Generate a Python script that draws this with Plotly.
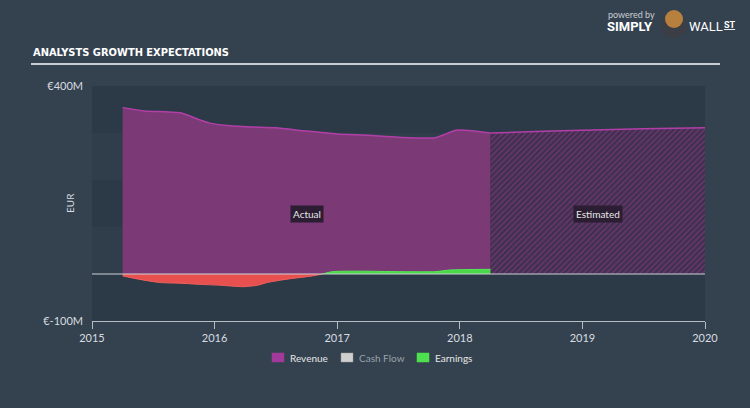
import numpy as np
import plotly.graph_objects as go

# ---------------- data ----------------
rev_actual_x = [2015.25, 2015.43, 2015.6, 2015.72, 2015.88, 2015.96, 2016.1, 2016.3, 2016.5,
                2016.75, 2017.0, 2017.25, 2017.5, 2017.8, 2017.97, 2018.1, 2018.25]
rev_actual_y = [354, 347, 345, 343, 328, 321, 316, 313, 311, 304, 298, 295, 291, 290, 306, 305, 300]

rev_est_x = [2018.25, 2018.5, 2019.0, 2019.5, 2020.0]
rev_est_y = [300, 302, 306, 309, 311]

earn_x = [2015.25, 2015.4, 2015.55, 2015.75, 2015.88, 2016.05, 2016.23, 2016.35, 2016.43,
          2016.59, 2016.8, 2016.88, 2016.96, 2017.2, 2017.5, 2017.8, 2017.92, 2018.25]
earn_y = [-4, -12, -18, -20, -22, -24, -27, -24, -18, -11, -4, 0, 5, 6, 5, 5, 8.5, 10]

year_ticks = [2015, 2016, 2017, 2018, 2019, 2020]
y_ticks = [400, -100]
y_tick_text = ["€400M", "€-100M"]
bands = [(300, 400), (100, 200), (-100, 0)]

legend_items = [("Revenue", "#a23a9b", "#e6e6e6"),
                ("Cash Flow", "#cfcfcf", "#98a1aa"),
                ("Earnings", "#4ee04e", "#e6e6e6")]

# ---------------- layout helpers ----------------
W, H = 750, 408
L, R, T, B = 92, 705, 86, 321


def px(x):
    return (x - L) / (R - L)


def py(y):
    return (B - y) / (B - T)


FONT = "Lato"
TITLE_FONT = "'Liberation Sans Narrow', 'DejaVu Sans Condensed', 'DejaVu Sans', sans-serif"
fig = go.Figure()

# Revenue actual
fig.add_trace(go.Scatter(
    x=rev_actual_x, y=rev_actual_y, mode="lines", fill="tozeroy",
    line=dict(color="#b23fa8", width=1.5, shape="spline", smoothing=0.6),
    fillcolor="#7b3a76", hoverinfo="skip", showlegend=False))

# Revenue estimated (hatched)
fig.add_trace(go.Scatter(
    x=rev_est_x, y=rev_est_y, mode="lines", fill="tozeroy",
    line=dict(color="#b23fa8", width=1.5, shape="spline", smoothing=0.6),
    fillcolor="#3c2f4c",
    fillpattern=dict(shape="/", fgcolor="#8a3c85", bgcolor="#3c2f4c", size=4, solidity=0.5),
    hoverinfo="skip", showlegend=False))

ex = np.array(earn_x)
ey = np.array(earn_y)
neg_mask = ey <= 0
pos_mask = ey >= 0
fig.add_trace(go.Scatter(
    x=ex[neg_mask], y=ey[neg_mask], mode="lines", fill="tozeroy",
    line=dict(color="#f0605e", width=1, shape="spline", smoothing=0.6),
    fillcolor="#e8504f", hoverinfo="skip", showlegend=False))
fig.add_trace(go.Scatter(
    x=ex[pos_mask], y=ey[pos_mask], mode="lines", fill="tozeroy",
    line=dict(color="#55e855", width=1, shape="spline", smoothing=0.6),
    fillcolor="#48d848", hoverinfo="skip", showlegend=False))

shapes = []
for lo, hi in bands:
    shapes.append(dict(type="rect", xref="paper", yref="y", x0=0, x1=1, y0=lo, y1=hi,
                       fillcolor="#2c3a47", line=dict(width=0), layer="below"))
# zero line
shapes.append(dict(type="line", xref="paper", yref="y", x0=0, x1=1, y0=0, y1=0,
                   line=dict(color="#cdd2d7", width=1.2), layer="above"))
# title underline
shapes.append(dict(type="line", xref="paper", yref="paper", x0=px(31), x1=px(720),
                   y0=py(64), y1=py(64), line=dict(color="#c5ccd3", width=2)))

annotations = []
annotations.append(dict(text="<b>ANALYSTS GROWTH EXPECTATIONS</b>", xref="paper", yref="paper",
                        x=px(31), y=py(53), xanchor="left", yanchor="middle", showarrow=False,
                        font=dict(family=TITLE_FONT, size=11, color="#ffffff")))
annotations.append(dict(text="EUR", xref="paper", yref="paper", x=px(62), y=py(203),
                        textangle=-90, showarrow=False,
                        font=dict(family=FONT, size=10, color="#d8dce0")))

# region labels
ax_mid = (rev_actual_x[0] + rev_actual_x[-1]) / 2
es_mid = (rev_est_x[0] + rev_est_x[-1]) / 2
for txt, xm in [("Actual", ax_mid), ("Estimated", es_mid)]:
    annotations.append(dict(text=txt, x=xm, y=128, xref="x", yref="y", showarrow=False,
                            bgcolor="#2b1d32", borderpad=2,
                            font=dict(family=FONT, size=10, color="#e8e8e8")))

# custom legend
leg_x = [272, 341, 417]
for (name, col, tcol), lx in zip(legend_items, leg_x):
    shapes.append(dict(type="rect", xref="paper", yref="paper",
                       x0=px(lx), x1=px(lx + 12), y0=py(362), y1=py(353),
                       fillcolor=col, line=dict(color="#9a9a9a" if name == "Cash Flow" else col, width=0.5)))
    annotations.append(dict(text=name, xref="paper", yref="paper", x=px(lx + 16), y=py(358),
                            xanchor="left", yanchor="middle", showarrow=False,
                            font=dict(family=FONT, size=10, color=tcol)))

# logo
annotations.append(dict(text="powered by", xref="paper", yref="paper", x=px(606), y=py(15),
                        xanchor="left", yanchor="middle", showarrow=False,
                        font=dict(family=FONT, size=9, color="#c9ced3")))
annotations.append(dict(text="<b>SIMPLY</b>", xref="paper", yref="paper", x=px(605), y=py(27),
                        xanchor="left", yanchor="middle", showarrow=False,
                        font=dict(family="Roboto", size=13, color="#ffffff")))
annotations.append(dict(text="WALL", xref="paper", yref="paper", x=px(687), y=py(27),
                        xanchor="left", yanchor="middle", showarrow=False,
                        font=dict(family="Roboto", size=13, color="#ffffff")))
annotations.append(dict(text="<b><u>ST</u></b>", xref="paper", yref="paper", x=px(722), y=py(25),
                        xanchor="left", yanchor="middle", showarrow=False,
                        font=dict(family="Roboto", size=9, color="#ffffff")))
# bull head
shapes.append(dict(type="circle", xref="paper", yref="paper", x0=px(661), x1=px(687),
                   y0=py(38), y1=py(14), fillcolor="#3b3f45", line=dict(width=0)))
shapes.append(dict(type="circle", xref="paper", yref="paper", x0=px(665), x1=px(683),
                   y0=py(28), y1=py(10), fillcolor="#b8803e", line=dict(width=0)))

fig.update_layout(
    width=W, height=H,
    margin=dict(l=L, r=W - R, t=T, b=H - B),
    paper_bgcolor="#34424f",
    plot_bgcolor="#303e4b",
    shapes=shapes,
    annotations=annotations,
    showlegend=False,
    xaxis=dict(range=[2015, 2020], tickvals=year_ticks, ticktext=[str(v) for v in year_ticks],
               showgrid=False, zeroline=False, showline=True, linecolor="#b5bec7", linewidth=1,
               ticks="outside", ticklen=7, tickcolor="#b5bec7",
               tickfont=dict(family=FONT, size=11, color="#d8dce0")),
    yaxis=dict(range=[-100, 400], tickvals=y_ticks, ticktext=y_tick_text,
               showgrid=False, zeroline=False, showline=False, ticks="",
               ticklabelstandoff=8,
               tickfont=dict(family=FONT, size=11, color="#d8dce0")),
)

fig.write_html("out.html")
